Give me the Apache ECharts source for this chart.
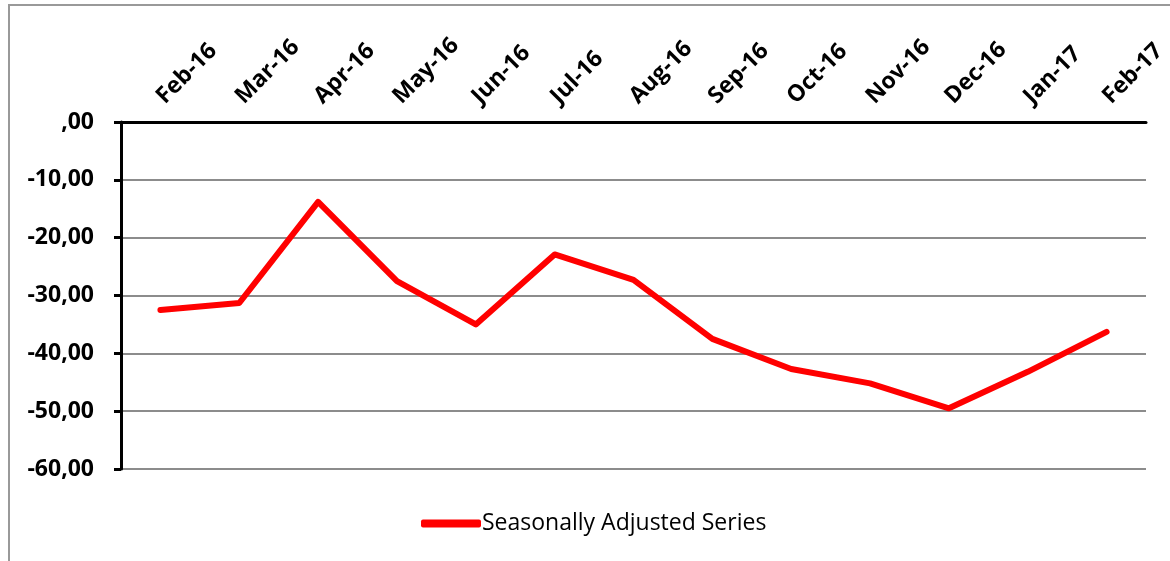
<!DOCTYPE html>
<html>
<head>
<meta charset="utf-8">
<script src="https://cdn.jsdelivr.net/npm/echarts@6/dist/echarts.min.js"></script>
<style>
  html, body { margin: 0; padding: 0; background: #fff; }
  #main { width: 1170px; height: 561px; }
</style>
</head>
<body>
<div id="main"></div>
<script>
var months = ['Feb-16', 'Mar-16', 'Apr-16', 'May-16', 'Jun-16', 'Jul-16', 'Aug-16',
              'Sep-16', 'Oct-16', 'Nov-16', 'Dec-16', 'Jan-17', 'Feb-17'];
var adjusted = [-32.5, -31.3, -13.8, -27.5, -35.0, -22.9, -27.3,
                -37.5, -42.7, -45.2, -49.5, -43.2, -36.3];
var seriesName = 'Seasonally Adjusted Series';

var myChart = echarts.init(document.getElementById('main'));

var option = {
    animation: false,
    backgroundColor: '#fff',
    graphic: [{
        type: 'rect',
        shape: { x: 9, y: 5, width: 1200, height: 600 },
        style: { fill: 'none', stroke: '#999', lineWidth: 2 },
        silent: true
    }],
    grid: { left: 121, right: 24, top: 122, bottom: 92 },
    legend: {
        bottom: 26,
        left: 421,
        padding: 0,
        itemWidth: 60,
        itemHeight: 8,
        itemGap: 4,
        icon: 'roundRect',
        textStyle: { fontFamily: 'Open Sans', fontSize: 23, color: '#000', padding: [0, 0, 0, -4] },
        data: [seriesName]
    },
    xAxis: {
        type: 'category',
        position: 'top',
        data: months,
        boundaryGap: true,
        axisLine: { lineStyle: { color: '#000', width: 3 } },
        axisTick: { inside: true, length: 6, lineStyle: { color: '#000', width: 3 } },
        axisLabel: {
            rotate: 45,
            interval: 0,
            margin: 22,
            color: '#000',
            fontFamily: 'Open Sans',
            fontWeight: 'bold',
            fontSize: 23
        },
        splitLine: { show: false }
    },
    yAxis: {
        type: 'value',
        min: -60,
        max: 0,
        interval: 10,
        axisLine: { show: true, lineStyle: { color: '#000', width: 3 } },
        axisTick: { show: true, length: 7, lineStyle: { color: '#000', width: 3 } },
        axisLabel: {
            margin: 27,
            color: '#000',
            fontFamily: 'Open Sans',
            fontWeight: 'bold',
            fontSize: 23,
            formatter: function (v) {
                var s = Math.abs(v).toFixed(2).replace('.', ',');
                if (v === 0) return ',00';
                return (v < 0 ? '-' : '') + s;
            }
        },
        splitLine: { lineStyle: { color: '#8c8c8c', width: 2 } }
    },
    series: [{
        name: seriesName,
        type: 'line',
        data: adjusted,
        symbol: 'none',
        itemStyle: { color: '#ff0000' },
        lineStyle: { color: '#ff0000', width: 6, cap: 'round', join: 'round' }
    }]
};

option && myChart.setOption(option);
</script>
</body>
</html>
